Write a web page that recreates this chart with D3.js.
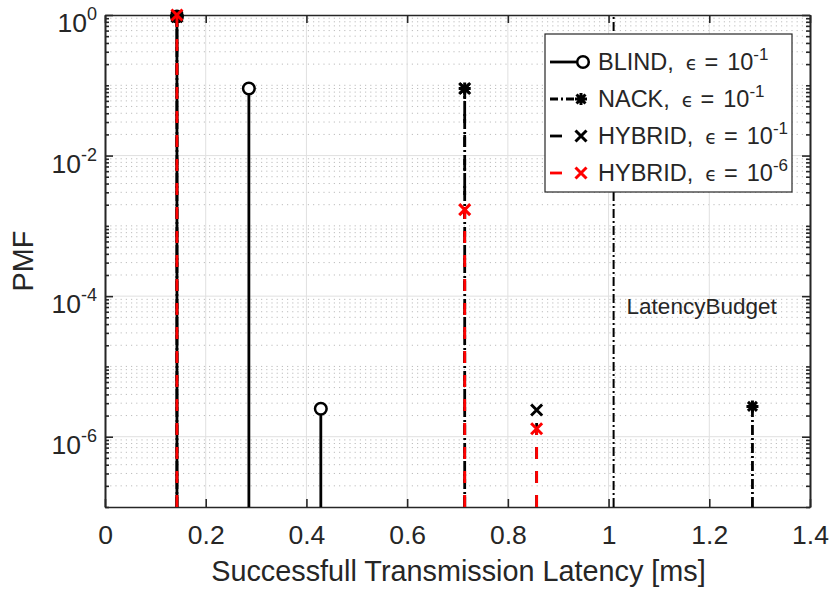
<!DOCTYPE html>
<html>
<head>
<meta charset="utf-8">
<script src="https://cdn.jsdelivr.net/npm/d3@7"></script>
<style>
	body { margin: 0; background: #fff; }
	text { font-family: "Liberation Sans", Arial, Helvetica, sans-serif; fill: #262626; }
</style>
</head>
<body>

<svg id="chart" width="830" height="592"></svg>

<script type="text/javascript">

	// latency in ms (slots of 1/7 ms) and PMF values
	var blindX = [1/7, 2/7, 3/7];
	var blindY = [0.95, 0.09, 2.5e-6];
	var nackX = [1/7, 5/7, 9/7];
	var nackY = [0.95, 0.09, 2.7e-6];
	var hybX = [1/7, 5/7, 6/7];
	var hybY = [0.95, 0.09, 2.4e-6];
	var hyb6X = [1/7, 5/7, 6/7];
	var hyb6Y = [0.998, 1.7e-3, 1.3e-6];
	var budgetX = 1.01;

	var xTicks = [0, 0.2, 0.4, 0.6, 0.8, 1, 1.2, 1.4];
	var yTickExp = [0, -2, -4, -6];
	var legendNames = ["BLIND,", "NACK,", "HYBRID,", "HYBRID,"];
	var legendExp = ["-1", "-1", "-1", "-6"];

	var plotL = 105, plotR = 810, plotT = 15, plotB = 507;
	var axisColor = "#262626";

	var x = d3.scaleLinear().domain([0, 1.4]).range([plotL, plotR]);
	var y = d3.scaleLog().domain([1e-7, 1]).range([plotB, plotT]);

	var svg = d3.select("#chart");

	var majorY = yTickExp.map(function(e) { return Math.pow(10, e); });
	var minorY = [];
	for (var e = -7; e < 0; e++) {
		for (var k = 1; k < 10; k++) {
			if (k == 1 && e % 2 == 0) continue;
			minorY.push(k * Math.pow(10, e));
		}
	}

	// Grid.
	var grid = svg.append("g");
	grid.selectAll(".minor").data(minorY.filter(function(v) { return v > 1e-7; })).enter()
		.append("line")
		.attr("x1", plotL).attr("x2", plotR)
		.attr("y1", function(d) { return y(d); })
		.attr("y2", function(d) { return y(d); })
		.attr("stroke", "#bdbdbd")
		.attr("stroke-width", 1)
		.attr("stroke-dasharray", "1.2,4");
	grid.selectAll(".majorY").data(majorY.slice(1)).enter()
		.append("line")
		.attr("x1", plotL).attr("x2", plotR)
		.attr("y1", function(d) { return y(d); })
		.attr("y2", function(d) { return y(d); })
		.attr("stroke", "#e0e0e0")
		.attr("stroke-width", 1);
	grid.selectAll(".majorX").data(xTicks.slice(1, -1)).enter()
		.append("line")
		.attr("y1", plotT).attr("y2", plotB)
		.attr("x1", function(d) { return x(d); })
		.attr("x2", function(d) { return x(d); })
		.attr("stroke", "#e0e0e0")
		.attr("stroke-width", 1);

	// Axes, ticks point inwards.
	function styleAxis(g) {
		g.selectAll("path, line").attr("stroke", axisColor).attr("stroke-width", 1.6);
	}

	svg.append("g").attr("transform", "translate(0," + plotB + ")")
		.call(d3.axisBottom(x).tickValues(xTicks).tickSize(-8).tickSizeOuter(0).tickPadding(18)
			.tickFormat(function(d) { return String(d); }))
		.call(styleAxis)
		.selectAll("text").attr("font-size", 26.5).attr("fill", axisColor)
		.style("font-family", "'Liberation Sans', Arial, sans-serif");

	svg.append("g").attr("transform", "translate(0," + plotT + ")")
		.call(d3.axisTop(x).tickValues(xTicks).tickSize(-8).tickSizeOuter(0).tickFormat(""))
		.call(styleAxis);

	var gy = svg.append("g").attr("transform", "translate(" + plotL + ",0)")
		.call(d3.axisLeft(y).tickValues(majorY).tickSize(-8).tickSizeOuter(0).tickPadding(8).tickFormat(""))
		.call(styleAxis);
	gy.selectAll(".tick text").each(function(d) {
		var t = d3.select(this).attr("dy", "0.62em").attr("font-size", 26.5).attr("fill", axisColor)
			.style("font-family", "'Liberation Sans', Arial, sans-serif");
		t.append("tspan").text("10");
		t.append("tspan").attr("dy", -12).attr("font-size", 18).text(Math.round(Math.log10(d)));
	});
	svg.append("g").attr("transform", "translate(" + plotL + ",0)")
		.call(d3.axisLeft(y).tickValues(minorY).tickSize(-4).tickSizeOuter(0).tickFormat(""))
		.call(styleAxis);

	svg.append("g").attr("transform", "translate(" + plotR + ",0)")
		.call(d3.axisRight(y).tickValues(majorY).tickSize(-8).tickSizeOuter(0).tickFormat(""))
		.call(styleAxis);
	svg.append("g").attr("transform", "translate(" + plotR + ",0)")
		.call(d3.axisRight(y).tickValues(minorY).tickSize(-4).tickSizeOuter(0).tickFormat(""))
		.call(styleAxis);

	// Markers.
	function marker(g, type, cx, cy, color) {
		if (type == "o") {
			g.append("circle").attr("cx", cx).attr("cy", cy).attr("r", 5.8)
				.attr("fill", "#fff").attr("stroke", color).attr("stroke-width", 2.5);
		} else if (type == "x") {
			g.append("path").attr("transform", "translate(" + cx + "," + cy + ")")
				.attr("d", "M-5.5,-5.5L5.5,5.5M-5.5,5.5L5.5,-5.5")
				.attr("stroke", color).attr("stroke-width", 3).attr("fill", "none");
		} else {
			g.append("path").attr("transform", "translate(" + cx + "," + cy + ")")
				.attr("d", "M-6,0H6M0,-6V6M-4.5,-4.5L4.5,4.5M-4.5,4.5L4.5,-4.5")
				.attr("stroke", color).attr("stroke-width", 3).attr("fill", "none");
		}
	}

	var series = [
		{ xs: blindX, ys: blindY, color: "#000", dash: null, mark: "o" },
		{ xs: nackX, ys: nackY, color: "#000", dash: "10,3,2,3", mark: "*" },
		{ xs: hybX, ys: hybY, color: "#000", dash: "12,12", mark: "x" },
		{ xs: hyb6X, ys: hyb6Y, color: "#ff0000", dash: "12,12", mark: "x" }
	];

	var plot = svg.append("g");
	series.forEach(function(s) {
		var g = plot.append("g");
		s.xs.forEach(function(xv, i) {
			g.append("line")
				.attr("x1", x(xv)).attr("x2", x(xv))
				.attr("y1", y.range()[0]).attr("y2", y(s.ys[i]))
				.attr("stroke", s.color)
				.attr("stroke-width", 2.8)
				.attr("stroke-dasharray", s.dash);
		});
		s.xs.forEach(function(xv, i) {
			marker(g, s.mark, x(xv), y(s.ys[i]), s.color);
		});
	});

	// Latency budget line.
	plot.append("line")
		.attr("x1", x(budgetX)).attr("x2", x(budgetX))
		.attr("y1", plotB).attr("y2", plotT)
		.attr("stroke", "#000")
		.attr("stroke-width", 2)
		.attr("stroke-dasharray", "9,3,2,3");
	svg.append("text")
		.attr("x", x(budgetX) + 13)
		.attr("y", y(5.6e-5))
		.attr("font-size", 22.5)
		.attr("fill", "#000")
		.text("LatencyBudget");

	// Axis labels.
	svg.append("text")
		.attr("x", (plotL + plotR) / 2 + 1)
		.attr("y", 581)
		.attr("text-anchor", "middle")
		.attr("font-size", 28.8)
		.text("Successfull Transmission Latency [ms]");
	svg.append("text")
		.attr("transform", "translate(33," + (plotT + plotB) / 2 + ") rotate(-90)")
		.attr("text-anchor", "middle")
		.attr("font-size", 28.8)
		.text("PMF");

	// Legend.
	var leg = svg.append("g");
	leg.append("rect")
		.attr("x", 545).attr("y", 34)
		.attr("width", 247).attr("height", 158)
		.attr("fill", "#fff")
		.attr("stroke", axisColor)
		.attr("stroke-width", 1.2);

	series.forEach(function(s, i) {
		var ry = 62 + i * 37;
		var row = leg.append("g");
		var lineEnd = s.mark == "x" ? 562 : (s.mark == "*" ? 575 : 578);
		row.append("line")
			.attr("x1", 550).attr("x2", lineEnd)
			.attr("y1", ry).attr("y2", ry)
			.attr("stroke", s.color)
			.attr("stroke-width", 2.8)
			.attr("stroke-dasharray", s.mark == "*" ? "8,3,2,3" : null);
		marker(row, s.mark, s.mark == "o" ? 583 : 581, ry, s.color);

		var t = row.append("text")
			.attr("x", 598)
			.attr("y", ry + 8)
			.attr("font-size", 23.5)
			.attr("fill", "#000");
		t.append("tspan").text(legendNames[i]);
		t.append("tspan").attr("dx", 12).style("font-family", "'DejaVu Sans', sans-serif")
			.attr("font-size", 19).text("\u03f5");
		t.append("tspan").attr("dx", 7).text("=");
		t.append("tspan").attr("dx", 9).text("10");
		t.append("tspan").attr("dy", -10).attr("font-size", 17).text(legendExp[i]);
	});

</script>

</body>
</html>
